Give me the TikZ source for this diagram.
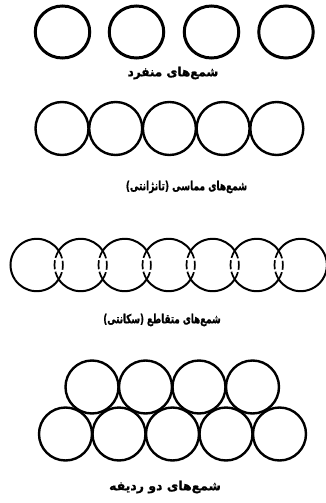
\documentclass[tikz,border=0pt]{standalone}
\usepackage{fontspec}
\newfontfamily\fa[Script=Arabic,BoldFeatures={FakeBold=1.2}]{DejaVu Sans}
\TeXXeTstate=1
\usetikzlibrary{shapes.geometric}
\begin{document}
\begin{tikzpicture}[x=1pt,y=-1pt,
  pile/.style={draw=black, circle, inner sep=0pt, minimum size=53pt, line width=2.4pt},
  pileone/.style={draw=black, ellipse, inner sep=0pt, minimum width=54.5pt, minimum height=52pt, line width=3pt},
  lbl/.style={font=\fa\bfseries\fontsize{12.5}{14}\selectfont, inner sep=0pt, text=black},
  squeeze/.style={transform shape, xscale=#1},
  solidarc/.style={line width=2pt},
  hiddenarc/.style={line width=1.7pt, dash pattern=on 9pt off 2.5pt}
]
\useasboundingbox (0,0) rectangle (325,503);
% Row 1: single piles
\foreach \i/\x in {1/62.5,2/136.5,3/211.5,4/286}{
  \node[pileone] (a\i) at (\x,32) {};
}
\node[lbl, squeeze=0.96] (l1) at (173,73) {\beginR شمع‌های منفرد\endR};
% Row 2: tangent piles
\foreach \i in {1,...,5}{
  \node[pile] (b\i) at ({62+(\i-1)*53.7},128.5) {};
}
\node[lbl, squeeze=0.72] (l2) at (186.5,187) {\beginR شمع‌های مماسی (تانژانتی)\endR};
% Row 3: secant piles
\def\R{26.2}
\foreach \i in {1,...,7}{
  \coordinate (c\i) at ({36.7+(\i-1)*44},265);
  \draw[solidarc] (c\i) ++(34.5:\R) arc[start angle=34.5, end angle=145.5, radius=\R];
  \draw[solidarc] (c\i) ++(214.5:\R) arc[start angle=214.5, end angle=325.5, radius=\R];
}
\draw[solidarc] (c1) ++(145.5:\R) arc[start angle=145.5, end angle=214.5, radius=\R];
\draw[solidarc] (c7) ++(-34.5:\R) arc[start angle=-34.5, end angle=34.5, radius=\R];
\foreach \i in {1,...,6}{
  \draw[hiddenarc] (c\i) ++(-34.5:\R) arc[start angle=-34.5, end angle=34.5, radius=\R];
}
\foreach \i in {2,...,7}{
  \draw[hiddenarc] (c\i) ++(145.5:\R) arc[start angle=145.5, end angle=214.5, radius=\R];
}
\node[lbl, squeeze=0.70] (l3) at (162,320) {\beginR شمع‌های متقاطع (سکانتی)\endR};
% Row 4: two-row piles
\foreach \i in {1,...,4}{
  \node[pile] (t\i) at ({92+(\i-1)*53.5},387) {};
}
\foreach \i in {1,...,5}{
  \node[pile] (u\i) at ({65.5+(\i-1)*53.5},434) {};
}
\node[lbl] (l4) at (165,487) {\beginR شمع‌های دو ردیفه\endR};
\end{tikzpicture}
\end{document}
